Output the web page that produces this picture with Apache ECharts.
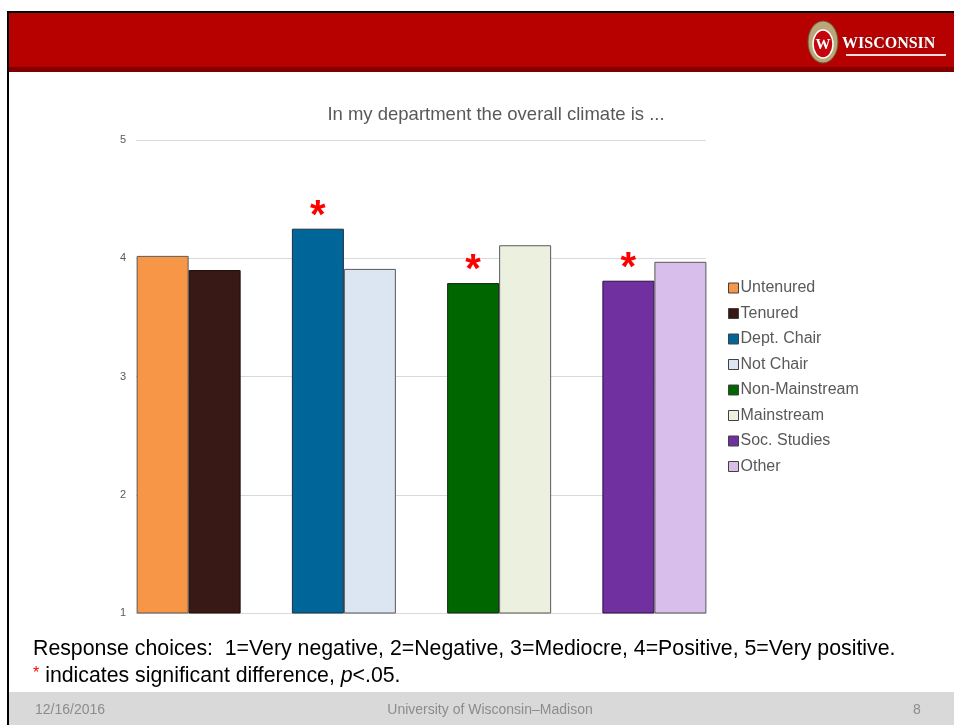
<!DOCTYPE html>
<html>
<head>
<meta charset="utf-8">
<script src="https://cdn.jsdelivr.net/npm/echarts@6/dist/echarts.min.js"></script>
<style>
  html, body { margin: 0; padding: 0; background: #ffffff; }
  #chart { width: 954px; height: 725px; }
</style>
</head>
<body>
<div id="chart"></div>
<script>
// Mean climate ratings by faculty group (1 = very negative ... 5 = very positive)
const groups = ['Rank', 'Role', 'Field', 'Area'];
const seriesNames = ['Untenured', 'Tenured', 'Dept. Chair', 'Not Chair',
                     'Non-Mainstream', 'Mainstream', 'Soc. Studies', 'Other'];
const seriesValues = [4.02, 3.90, 4.25, 3.91, 3.79, 4.11, 3.81, 3.97];
// which group each series belongs to
const seriesGroup = [0, 0, 1, 1, 2, 2, 3, 3];
// significant difference within the pair (p < .05)
const significant = [false, false, true, false, true, false, true, false];
const yTicks = [1, 2, 3, 4, 5];

const fillColors = ['#F79646', '#381916', '#006699', '#DCE6F2',
                    '#006600', '#EBF1DE', '#7030A0', '#D8BEEA'];
const edgeColors = ['#595959', '#1a0a08', '#1f2f3f', '#595959',
                    '#0f2a0f', '#595959', '#2a1040', '#595959'];

const FONT = '"Liberation Sans", Arial, sans-serif';
const Y_MIN = yTicks[0];
const Y_MAX = yTicks[yTicks.length - 1];

const series = seriesNames.map((name, i) => {
  const data = groups.map((g, gi) => (gi === seriesGroup[i] ? seriesValues[i] : null));
  return {
    name: name,
    type: 'bar',
    xAxisIndex: 1,
    yAxisIndex: 1,
    stack: i % 2 === 0 ? 'first' : 'second',
    barWidth: 52,
    barGap: '0%',
    data: data,
    itemStyle: { color: fillColors[i], borderColor: edgeColors[i], borderWidth: 1 },
    label: significant[i] ? {
      show: true,
      position: 'top',
      distance: -8,
      formatter: '*',
      color: '#FF0000',
      fontSize: 40,
      fontWeight: 'bold',
      fontFamily: FONT
    } : { show: false },
    emphasis: { disabled: true }
  };
});

const chart = echarts.init(document.getElementById('chart'), null, { renderer: 'canvas' });

chart.setOption({
  backgroundColor: '#ffffff',
  animation: false,
  title: {
    text: 'In my department the overall climate is ...',
    left: 491,
    top: 100,
    textAlign: 'center',
    textStyle: { color: '#595959', fontSize: 18.5, fontWeight: 'normal', fontFamily: FONT }
  },
  grid: [
    // value scale and gridlines
    { left: 136, right: 248, top: 140, bottom: 112, containLabel: false },
    // bar groups, spread a little wider than the gridlines
    { left: 111, right: 222, top: 140, bottom: 112, containLabel: false }
  ],
  xAxis: [
    {
      gridIndex: 0,
      type: 'category',
      data: [''],
      axisLine: { lineStyle: { color: '#D9D9D9' } },
      axisTick: { show: false },
      axisLabel: { show: false }
    },
    {
      gridIndex: 1,
      type: 'category',
      data: groups,
      axisLine: { show: false },
      axisTick: { show: false },
      axisLabel: { show: false }
    }
  ],
  yAxis: [
    {
      gridIndex: 0,
      type: 'value',
      min: Y_MIN,
      max: Y_MAX,
      interval: 1,
      axisLine: { show: false },
      axisTick: { show: false },
      axisLabel: { color: '#595959', fontSize: 11, margin: 10, fontFamily: FONT },
      splitLine: { lineStyle: { color: '#D9D9D9' } }
    },
    {
      gridIndex: 1,
      type: 'value',
      min: Y_MIN,
      max: Y_MAX,
      interval: 1,
      show: false,
      splitLine: { show: false }
    }
  ],
  legend: {
    orient: 'vertical',
    left: 728,
    top: 280,
    padding: 0,
    itemWidth: 10,
    itemHeight: 10,
    itemGap: 9.5,
    icon: 'rect',
    textStyle: { color: '#595959', fontSize: 16, fontFamily: FONT, padding: [0, 0, 0, -3] },
    data: seriesNames.map((n, i) => ({
      name: n,
      itemStyle: { color: fillColors[i], borderColor: '#404040', borderWidth: 1 }
    }))
  },
  series: series,
  graphic: [
    // slide frame lines
    { type: 'rect', silent: true, shape: { x: 7, y: 11, width: 960, height: 2 }, style: { fill: '#000000' } },
    { type: 'rect', silent: true, shape: { x: 7, y: 11, width: 2, height: 720 }, style: { fill: '#000000' } },
    // header band
    { type: 'rect', silent: true, shape: { x: 9, y: 13, width: 950, height: 54 }, style: { fill: '#B70000' } },
    { type: 'rect', silent: true, shape: { x: 9, y: 67, width: 950, height: 5 }, style: { fill: '#800000' } },
    // crest
    { type: 'ellipse', silent: true, shape: { cx: 823, cy: 42, rx: 15, ry: 21 }, style: { fill: '#B9A77A', stroke: '#6b5a3a', lineWidth: 1 } },
    { type: 'ellipse', silent: true, shape: { cx: 823, cy: 44, rx: 10, ry: 14 }, style: { fill: '#C5050C', stroke: '#ffffff', lineWidth: 1.5 } },
    { type: 'text', silent: true, x: 823, y: 45, style: { text: 'W', fill: '#ffffff', font: 'bold 15px "Liberation Serif", serif', textAlign: 'center', textVerticalAlign: 'middle' } },
    // wordmark
    { type: 'text', silent: true, x: 842, y: 44, style: { text: 'WISCONSIN', fill: '#ffffff', font: 'bold 16px "Liberation Serif", serif', textVerticalAlign: 'middle', textShadowColor: '#5a0000', textShadowBlur: 1 } },
    { type: 'rect', silent: true, shape: { x: 846, y: 54, width: 100, height: 2 }, style: { fill: '#f2dcdc' } },
    // notes under the chart
    { type: 'text', silent: true, x: 33, y: 649, style: {
        text: 'Response choices:  1=Very negative, 2=Negative, 3=Mediocre, 4=Positive, 5=Very positive.',
        fill: '#000000', font: '21.3px "Liberation Sans", Arial, sans-serif', textVerticalAlign: 'middle' } },
    { type: 'text', silent: true, x: 33, y: 676, style: {
        text: '{r|*} indicates significant difference, {i|p}<.05.',
        fill: '#000000', font: '21.3px "Liberation Sans", Arial, sans-serif', textVerticalAlign: 'middle',
        rich: {
          r: { fill: '#FF0000', font: '16px "Liberation Sans", Arial, sans-serif', verticalAlign: 'top' },
          i: { fill: '#000000', font: 'italic 21.3px "Liberation Sans", Arial, sans-serif' }
        } } },
    // footer band
    { type: 'rect', silent: true, shape: { x: 9, y: 692, width: 950, height: 40 }, style: { fill: '#D9D9D9' } },
    { type: 'text', silent: true, x: 35, y: 710, style: { text: '12/16/2016', fill: '#8C8C8C', font: '14px "Liberation Sans", Arial, sans-serif', textVerticalAlign: 'middle' } },
    { type: 'text', silent: true, x: 490, y: 710, style: { text: 'University of Wisconsin\u2013Madison', fill: '#8C8C8C', font: '14px "Liberation Sans", Arial, sans-serif', textAlign: 'center', textVerticalAlign: 'middle' } },
    { type: 'text', silent: true, x: 913, y: 710, style: { text: '8', fill: '#8C8C8C', font: '14px "Liberation Sans", Arial, sans-serif', textVerticalAlign: 'middle' } }
  ]
});
</script>
</body>
</html>
